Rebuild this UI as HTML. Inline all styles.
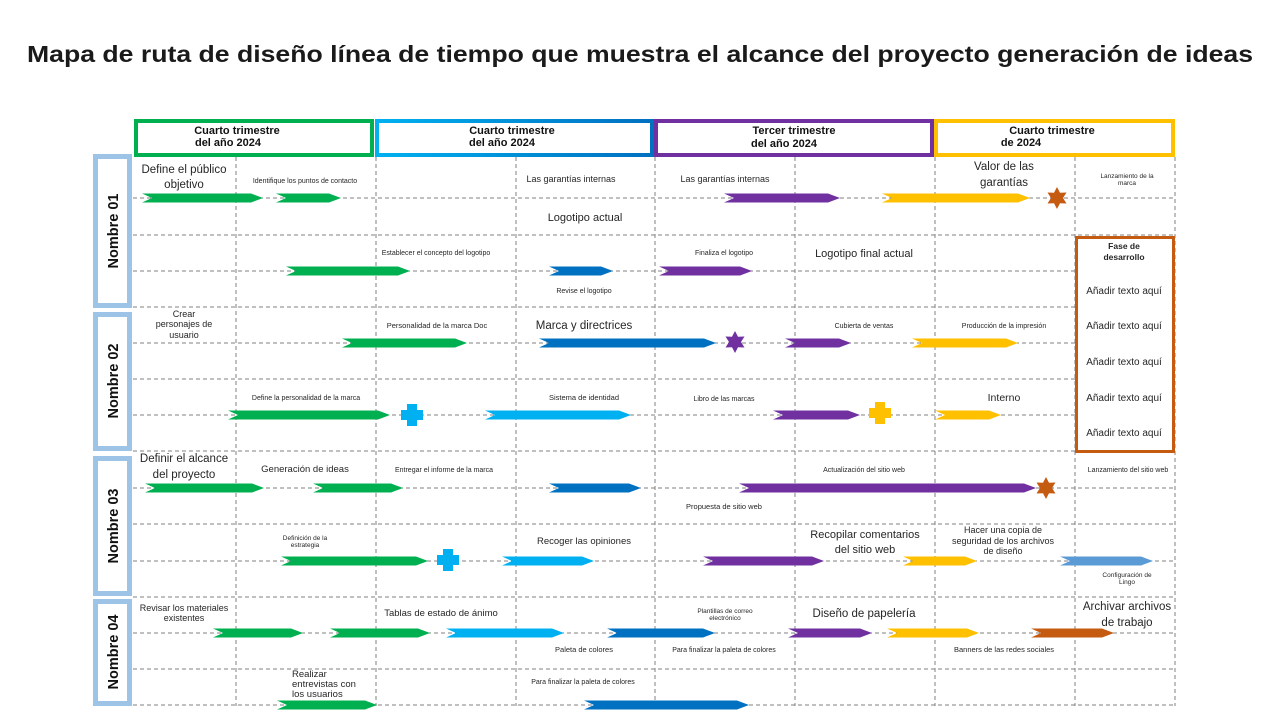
<!DOCTYPE html>
<html><head><meta charset="utf-8"><style>
html,body{margin:0;padding:0;background:#fff;}
svg{display:block;font-family:"Liberation Sans",sans-serif;}
.t{fill:#262626;text-anchor:middle;}
.hd{font-weight:bold;fill:#111;text-anchor:middle;font-size:11px;}
.nm{font-weight:bold;font-size:14.5px;fill:#111;text-anchor:middle;}
</style></head><body>
<svg id="s" width="1280" height="720" viewBox="0 0 1280 720" xmlns="http://www.w3.org/2000/svg">
<defs>
<linearGradient id="bg" x1="0" x2="1" y1="0" y2="0"><stop offset="0" stop-color="#00b0f0"/><stop offset="1" stop-color="#0070c0"/></linearGradient>
</defs>
<text x="640" y="62" text-anchor="middle" font-weight="bold" font-size="23" fill="#1a1a1a" textLength="1226" lengthAdjust="spacingAndGlyphs">Mapa de ruta de diseño línea de tiempo que muestra el alcance del proyecto generación de ideas</text>
<g id="grid" stroke="#808080" stroke-width="1" stroke-dasharray="4,3" fill="none"></g>
<!-- headers -->
<rect x="136" y="121" width="236" height="34" fill="#fff" stroke="#00b050" stroke-width="4"/>
<rect x="377" y="121" width="275" height="34" fill="#fff" stroke="url(#bg)" stroke-width="4"/>
<rect x="656" y="121" width="276" height="34" fill="#fff" stroke="#7030a0" stroke-width="4"/>
<rect x="936" y="121" width="237" height="34" fill="#fff" stroke="#ffc000" stroke-width="4"/>
<text class="hd" x="237" y="134">Cuarto trimestre</text><text class="hd" x="228" y="146">del año 2024</text>
<text class="hd" x="512" y="134">Cuarto trimestre</text><text class="hd" x="502" y="146">del año 2024</text>
<text class="hd" x="794" y="134" font-size="12.5">Tercer trimestre</text><text class="hd" x="784" y="147" font-size="12.5">del año 2024</text>
<text class="hd" x="1052" y="134">Cuarto trimestre</text><text class="hd" x="1021" y="146">de 2024</text>
<!-- name boxes -->
<g fill="#fff" stroke="#9dc3e6" stroke-width="5">
<rect x="95.5" y="156.5" width="34" height="149"/>
<rect x="95.5" y="314.5" width="34" height="134"/>
<rect x="95.5" y="458.5" width="34" height="135"/>
<rect x="95.5" y="601.5" width="34" height="102"/>
</g>
<text class="nm" transform="translate(118,231) rotate(-90)">Nombre 01</text>
<text class="nm" transform="translate(118,381) rotate(-90)">Nombre 02</text>
<text class="nm" transform="translate(118,526) rotate(-90)">Nombre 03</text>
<text class="nm" transform="translate(118,652) rotate(-90)">Nombre 04</text>
<!-- orange box -->
<rect x="1076.5" y="237.5" width="97" height="214" fill="#fff" stroke="#c55a11" stroke-width="3"/>
<g id="shapes"></g>
<g class="t">
<text x="184" y="173" font-size="11.5">Define el público</text><text x="184" y="188" font-size="11.5">objetivo</text>
<text x="305" y="183" font-size="7">Identifique los puntos de contacto</text>
<text x="571" y="182" font-size="9">Las garantías internas</text>
<text x="585" y="221" font-size="11">Logotipo actual</text>
<text x="725" y="182" font-size="9">Las garantías internas</text>
<text x="1004" y="170" font-size="11.5">Valor de las</text><text x="1004" y="186" font-size="11.5">garantías</text>
<text x="1127" y="178" font-size="6.5">Lanzamiento de la</text><text x="1127" y="185" font-size="6.5">marca</text>
<text x="436" y="255" font-size="7">Establecer el concepto del logotipo</text>
<text x="584" y="293" font-size="7">Revise el logotipo</text>
<text x="724" y="255" font-size="7">Finaliza el logotipo</text>
<text x="864" y="257" font-size="11">Logotipo final actual</text>
<text x="1124" y="249" font-size="8.5" font-weight="bold">Fase de</text><text x="1124" y="260" font-size="8.5" font-weight="bold">desarrollo</text>
<text x="1124" y="294" font-size="10">Añadir texto aquí</text>
<text x="1124" y="329" font-size="10">Añadir texto aquí</text>
<text x="1124" y="365" font-size="10">Añadir texto aquí</text>
<text x="1124" y="401" font-size="10">Añadir texto aquí</text>
<text x="1124" y="436" font-size="10">Añadir texto aquí</text>
<text x="184" y="317" font-size="9">Crear</text><text x="184" y="327" font-size="9">personajes de</text><text x="184" y="338" font-size="9">usuario</text>
<text x="437" y="328" font-size="7.5">Personalidad de la marca Doc</text>
<text x="584" y="329" font-size="11.5">Marca y directrices</text>
<text x="864" y="328" font-size="7">Cubierta de ventas</text>
<text x="1004" y="328" font-size="7">Producción de la impresión</text>
<text x="306" y="400" font-size="7">Define la personalidad de la marca</text>
<text x="584" y="400" font-size="7.5">Sistema de identidad</text>
<text x="724" y="401" font-size="7">Libro de las marcas</text>
<text x="1004" y="401" font-size="10.5">Interno</text>
<text x="184" y="462" font-size="11.5">Definir el alcance</text><text x="184" y="478" font-size="11.5">del proyecto</text>
<text x="305" y="472" font-size="9.5">Generación de ideas</text>
<text x="444" y="472" font-size="7">Entregar  el informe de la marca</text>
<text x="864" y="472" font-size="7">Actualización del sitio web</text>
<text x="1128" y="472" font-size="7">Lanzamiento del sitio web</text>
<text x="724" y="509" font-size="7.5">Propuesta de sitio web</text>
<text x="305" y="540" font-size="6.5">Definición de la</text><text x="305" y="547" font-size="6.5">estrategia</text>
<text x="584" y="544" font-size="9.5">Recoger las opiniones</text>
<text x="865" y="538" font-size="11">Recopilar comentarios</text><text x="865" y="553" font-size="11">del sitio web</text>
<text x="1003" y="533" font-size="9">Hacer una copia de</text><text x="1003" y="544" font-size="9">seguridad de los archivos</text><text x="1003" y="554" font-size="9">de diseño</text>
<text x="1127" y="577" font-size="6.5">Configuración de</text><text x="1127" y="584" font-size="6.5">Lingo</text>
<text x="184" y="611" font-size="9">Revisar los materiales</text><text x="184" y="621" font-size="9">existentes</text>
<text x="441" y="616" font-size="9.5">Tablas de estado de ánimo</text>
<text x="725" y="613" font-size="6.5">Plantillas de correo</text><text x="725" y="620" font-size="6.5">electrónico</text>
<text x="864" y="617" font-size="11.5">Diseño de papelería</text>
<text x="1127" y="610" font-size="11.5">Archivar archivos</text><text x="1127" y="626" font-size="11.5">de trabajo</text>
<text x="584" y="652" font-size="7.5">Paleta de colores</text>
<text x="724" y="652" font-size="7">Para finalizar la paleta de colores</text>
<text x="1004" y="652" font-size="7.5">Banners de las redes sociales</text>
<text x="292" y="677" font-size="9.5" text-anchor="start">Realizar</text><text x="292" y="687" font-size="9.5" text-anchor="start">entrevistas con</text><text x="292" y="697" font-size="9.5" text-anchor="start">los usuarios</text>
<text x="583" y="684" font-size="7">Para finalizar la paleta de colores</text>
</g>
</svg>
<script>
var NS="http://www.w3.org/2000/svg";
function el(p,t,a){var e=document.createElementNS(NS,t);for(var k in a)e.setAttribute(k,a[k]);p.appendChild(e);return e;}
var g=document.getElementById("grid");
[198,235,271,307,343,379,415,451,488,524,561,597,633,669,705].forEach(function(y){el(g,"line",{x1:133,x2:1176,y1:y,y2:y});});
[236,376,516,655,795,935,1075,1175].forEach(function(x){el(g,"line",{x1:x,x2:x,y1:157,y2:706});});
var s=document.getElementById("shapes");
var G="#00b050",B="#0070c0",L="#00b0f0",P="#7030a0",Y="#ffc000",O="#c55a11",S="#5b9bd5";
function ar(x1,x2,y,c){var h=4.5;el(s,"polygon",{fill:c,points:[x1,y-h,x2-12,y-h,x2,y,x2-12,y+h,x1,y+h,x1+10,y].join(" ")});}
function plus(x,y,c){el(s,"path",{fill:c,d:"M"+(x-5)+","+(y-11)+"h10v6h6v10h-6v6h-10v-6h-6v-10h6z"});}
function star(x,y,c){var r=11,pts=[];for(var i=0;i<12;i++){var rr=i%2?r*0.55:r,a=-Math.PI/2+i*Math.PI/6;pts.push((x+rr*Math.cos(a)).toFixed(1)+","+(y+rr*Math.sin(a)).toFixed(1));}el(s,"polygon",{fill:c,points:pts.join(" ")});}
ar(142,263,198,G);ar(276,341,198,G);ar(724,840,198,P);ar(882,1030,198,Y);star(1057,198,O);
ar(286,410,271,G);ar(549,613,271,B);ar(659,752,271,P);
ar(342,467,343,G);ar(539,716,343,B);star(735,342,P);ar(785,851,343,P);ar(912,1018,343,Y);
ar(228,390,415,G);plus(412,415,L);ar(485,631,415,L);ar(773,860,415,P);plus(880,413,Y);ar(935,1001,415,Y);
ar(145,264,488,G);ar(313,403,488,G);ar(549,641,488,B);ar(739,1036,488,P);star(1046,488,O);
ar(281,428,561,G);plus(448,560,L);ar(502,594,561,L);ar(703,824,561,P);ar(903,977,561,Y);ar(1060,1153,561,S);
ar(213,303,633,G);ar(330,430,633,G);ar(446,564,633,L);ar(607,715,633,B);ar(788,872,633,P);ar(887,979,633,Y);ar(1031,1114,633,O);
ar(277,377,705,G);ar(584,749,705,B);
</script>
</body></html>
